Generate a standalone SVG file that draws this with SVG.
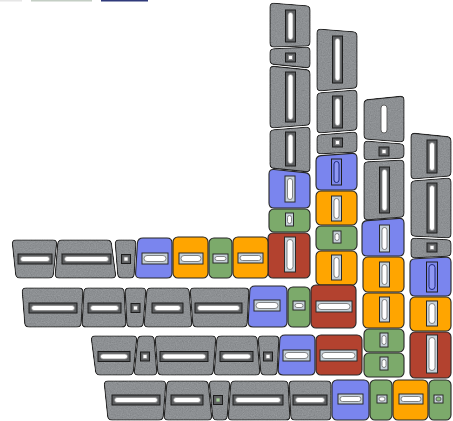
<svg xmlns="http://www.w3.org/2000/svg" width="453" height="421" viewBox="0 0 453 421">
<defs>
<filter id="grain" x="-5%" y="-5%" width="110%" height="110%" color-interpolation-filters="sRGB">
<feTurbulence type="fractalNoise" baseFrequency="0.85" numOctaves="2" seed="4" result="n"/>
<feColorMatrix in="n" type="matrix" values="0.33 0.33 0.33 0 0  0.33 0.33 0.33 0 0  0.33 0.33 0.33 0 0  0 0 0 0 1" result="g"/>
<feComposite in="SourceGraphic" in2="g" operator="arithmetic" k1="0" k2="1" k3="0.22" k4="-0.11" result="m"/>
<feComposite in="m" in2="SourceGraphic" operator="in"/>
</filter>
</defs>
<style>
.k{stroke:#262626;stroke-width:1.1;stroke-linejoin:round}
.gr{fill:#8d9093;filter:url(#grain)}.bl{fill:#7a85ee}.or{fill:#ffa500}.gn{fill:#7caa6b}.rd{fill:#b3422f}
.so{fill:#5d5f61;stroke:#1c1c1c;stroke-width:1}
.si{fill:#ffffff;stroke:#8a8a8a;stroke-width:0.8}
.co{fill:#c6d1d9;stroke:#2a2a2a;stroke-width:1}
.ci{fill:#ffffff;stroke:#6a6a6a;stroke-width:0.8}
.bo{fill:#7e88ea;stroke:#1e1e1e;stroke-width:1}
.bi{fill:#8f98f3;stroke:#1f2a80;stroke-width:1}
</style>
<g id="legend">
<rect x="0" y="-1" width="22" height="2.5" fill="#e6e6e6"/>
<rect x="31" y="-1" width="61" height="2.5" fill="#c4cec4"/>
<rect x="101" y="-1" width="47" height="2.5" fill="#2f3a7a"/>
</g>
<g id="connectors"></g>
<!-- column 1 -->
<g id="c1a"><path class="k gr" d="M274,3.3 L306,5.7 Q310,6 310,10 L310,42 Q310,46 306,46 L274,47 Q270,47 270,43 L270,7 Q270,3 274,3.3 Z"/><rect class="so" x="285.5" y="10" width="10" height="32"/><rect class="si" x="288" y="12.5" width="5" height="27" rx="2.5"/></g>
<g id="c1b"><path class="k gr" d="M274,48.8 L306,47.2 Q310,47 310,51 L310,64 Q310,68 306,67.6 L274,64.4 Q270,64 270,60 L270,53 Q270,49 274,48.8 Z"/><rect class="so" x="285.5" y="53" width="10" height="9"/><rect class="si" x="288.5" y="55.5" width="4" height="4"/></g>
<g id="c1c"><path class="k gr" d="M274,66.4 L306,69.6 Q310,70 310,74 L310,121 Q310,125 306,125.3 L274,127.7 Q270,128 270,124 L270,70 Q270,66 274,66.4 Z"/><rect class="so" x="285.5" y="72" width="10" height="50"/><rect class="si" x="288" y="74.5" width="5" height="45" rx="2.5"/></g>
<g id="c1d"><path class="k gr" d="M274,129.7 L306,127.3 Q310,127 310,131 L310,168 Q310,172 306,171.6 L274,168.4 Q270,168 270,164 L270,134 Q270,130 274,129.7 Z"/><rect class="so" x="285.5" y="132" width="10" height="34"/><rect class="si" x="288" y="134.5" width="5" height="29" rx="2.5"/></g>
<g id="c1e"><path class="k bl" d="M274,169.5 L305,172.6 Q310,173 310,178 L310,203 Q310,208 305,208 L274,208 Q269,208 269,203 L269,174 Q269,169 274,169.5 Z"/><rect class="co" x="285" y="176" width="10" height="26"/><rect class="ci" x="287.5" y="178.5" width="5" height="21" rx="2.5"/></g>
<g id="c1f"><rect class="k gn" x="269" y="209" width="41" height="23" rx="5"/><rect class="co" x="285.5" y="213" width="8" height="13"/><rect class="ci" x="287.5" y="215.5" width="4" height="8" rx="2"/></g>
<g id="c1g"><rect class="k rd" x="268" y="233" width="42" height="45" rx="5"/><rect class="co" x="284.5" y="237" width="11" height="35"/><rect class="ci" x="287" y="239.5" width="6" height="30" rx="3"/></g>
<!-- column 2 -->
<g id="c2a"><path class="k gr" d="M321,29.3 L353,31.7 Q357,32 357,36 L357,84 Q357,88 353,88.3 L321,90.7 Q317,91 317,87 L317,33 Q317,29 321,29.3 Z"/><rect class="so" x="332.5" y="36" width="10" height="47"/><rect class="si" x="335" y="38.5" width="5" height="42" rx="2.5"/></g>
<g id="c2b"><path class="k gr" d="M321,92.7 L353,90.3 Q357,90 357,94 L357,126 Q357,130 353,130.3 L321,132.7 Q317,133 317,129 L317,97 Q317,93 321,92.7 Z"/><rect class="so" x="332.5" y="96" width="10" height="32"/><rect class="si" x="335" y="98.5" width="5" height="27" rx="2.5"/></g>
<g id="c2c"><path class="k gr" d="M321,134.7 L353,132.3 Q357,132 357,136 L357,148 Q357,152 353,152.2 L321,153.8 Q317,154 317,150 L317,139 Q317,135 321,134.7 Z"/><rect class="so" x="332.5" y="138" width="10" height="9"/><rect class="si" x="335.5" y="140.5" width="4" height="4"/></g>
<g id="c2d"><path class="k bl" d="M321,155.6 L352,153.4 Q357,153 357,158 L357,185 Q357,190 352,190 L321,190 Q316,190 316,185 L316,161 Q316,156 321,155.6 Z"/><rect class="bo" x="331.5" y="159" width="10" height="26"/><rect class="bi" x="334" y="161.5" width="5" height="21" rx="2.5"/></g>
<g id="c2e"><rect class="k or" x="316" y="191" width="41" height="34" rx="5"/><rect class="co" x="331.5" y="196" width="10" height="25"/><rect class="ci" x="334" y="198.5" width="5" height="20" rx="2.5"/></g>
<g id="c2f"><rect class="k gn" x="316" y="226" width="41" height="24" rx="5"/><rect class="co" x="333" y="231" width="8" height="12"/><rect class="ci" x="335" y="233.5" width="4" height="7" rx="2"/></g>
<g id="c2g"><rect class="k or" x="316" y="251" width="41" height="34" rx="5"/><rect class="co" x="331.5" y="255" width="10" height="25"/><rect class="ci" x="334" y="257.5" width="5" height="20" rx="2.5"/></g>
<!-- column 3 -->
<g id="c3a"><path class="k gr" d="M368,99.6 L400,96.4 Q404,96 404,100 L404,138 Q404,142 400,141.7 L368,139.3 Q364,139 364,135 L364,104 Q364,100 368,99.6 Z"/><rect x="381" y="105" width="6" height="28" rx="3" fill="#fff" stroke="#555" stroke-width="0.9"/></g>
<g id="c3b"><path class="k gr" d="M368,141.3 L400,143.7 Q404,144 404,148 L404,154 Q404,158 400,158.2 L368,159.8 Q364,160 364,156 L364,145 Q364,141 368,141.3 Z"/><rect class="so" x="379" y="147" width="10" height="9"/><rect class="si" x="382" y="149.5" width="4" height="4"/></g>
<g id="c3c"><path class="k gr" d="M368,161.8 L400,160.2 Q404,160 404,164 L404,213 Q404,217 400,217.3 L368,219.7 Q364,220 364,216 L364,166 Q364,162 368,161.8 Z"/><rect class="so" x="379.5" y="167" width="10" height="46"/><rect class="si" x="382" y="169.5" width="5" height="41" rx="2.5"/></g>
<g id="c3d"><path class="k bl" d="M367,220.6 L399,218.4 Q404,218 404,223 L404,251 Q404,256 399,256 L367,256 Q362,256 362,251 L362,226 Q362,221 367,220.6 Z"/><rect class="co" x="379.5" y="225" width="10" height="27"/><rect class="ci" x="382" y="227.5" width="5" height="22" rx="2.5"/></g>
<g id="c3e"><rect class="k or" x="363" y="257" width="41" height="35" rx="5"/><rect class="co" x="379.5" y="262" width="10" height="25"/><rect class="ci" x="382" y="264.5" width="5" height="20" rx="2.5"/></g>
<g id="c3f"><rect class="k or" x="363" y="293" width="41" height="35" rx="5"/><rect class="co" x="379.5" y="297" width="10" height="25"/><rect class="ci" x="382" y="299.5" width="5" height="20" rx="2.5"/></g>
<g id="c3g"><rect class="k gn" x="364" y="329" width="40" height="23" rx="5"/><rect class="co" x="380" y="333" width="8" height="14"/><rect class="ci" x="382" y="335.5" width="4" height="9" rx="2"/></g>
<g id="c3h"><rect class="k gn" x="364" y="353" width="40" height="24" rx="5"/><rect class="co" x="380" y="357" width="8" height="13"/><rect class="ci" x="382" y="359.5" width="4" height="8" rx="2"/></g>
<!-- column 4 -->
<g id="c4a"><path class="k gr" d="M415,133.4 L447,136.6 Q451,137 451,141 L451,172 Q451,176 447,176.3 L415,178.7 Q411,179 411,175 L411,137 Q411,133 415,133.4 Z"/><rect class="so" x="427" y="140" width="10" height="33"/><rect class="si" x="429.5" y="142.5" width="5" height="28" rx="2.5"/></g>
<g id="c4b"><path class="k gr" d="M415,180.7 L447,178.3 Q451,178 451,182 L451,234 Q451,238 447,237.8 L415,236.2 Q411,236 411,232 L411,185 Q411,181 415,180.7 Z"/><rect class="so" x="427" y="183" width="10" height="50"/><rect class="si" x="429.5" y="185.5" width="5" height="45" rx="2.5"/></g>
<g id="c4c"><path class="k gr" d="M415,238.2 L447,239.8 Q451,240 451,244 L451,252 Q451,256 447,256.2 L415,257.8 Q411,258 411,254 L411,242 Q411,238 415,238.2 Z"/><rect class="so" x="427" y="243" width="10" height="9"/><rect class="si" x="430" y="245.5" width="4" height="4"/></g>
<g id="c4d"><path class="k bl" d="M415,258.8 L446,257.2 Q451,257 451,262 L451,291 Q451,296 446,296 L415,296 Q410,296 410,291 L410,264 Q410,259 415,258.8 Z"/><rect class="bo" x="426.5" y="262" width="11" height="30"/><rect class="bi" x="429" y="264.5" width="6" height="25" rx="3"/></g>
<g id="c4e"><rect class="k or" x="410" y="297" width="41" height="34" rx="5"/><rect class="co" x="426.5" y="301" width="11" height="25"/><rect class="ci" x="429" y="303.5" width="6" height="20" rx="3"/></g>
<g id="c4f"><rect class="k rd" x="410" y="332" width="41" height="46" rx="5"/><rect class="co" x="426.5" y="335" width="11" height="38"/><rect class="ci" x="429" y="337.5" width="6" height="33" rx="3"/></g>
<!-- row 1 -->
<g id="r1a"><path class="k gr" d="M16,240 L53,240 Q57,240 56.6,244 L53.4,274 Q53,278 49,278 L20,278 Q16,278 15.6,274 L12.4,244 Q12,240 16,240 Z"/><rect class="so" x="18" y="254" width="34" height="10"/><rect class="si" x="20.5" y="256.5" width="29" height="5" rx="2.5"/></g>
<g id="r1b"><path class="k gr" d="M62,240 L107,240 Q111,240 111.5,244 L115.5,274 Q116,278 112,278 L59,278 Q55,278 55.3,274 L57.7,244 Q58,240 62,240 Z"/><rect class="so" x="62" y="254" width="49" height="10"/><rect class="si" x="64.5" y="256.5" width="44" height="5" rx="2.5"/></g>
<g id="r1c"><path class="k gr" d="M119,240 L132,240 Q136,240 135.8,244 L134.2,274 Q134,278 130,278 L122,278 Q118,278 117.7,274 L115.3,244 Q115,240 119,240 Z"/><rect class="so" x="121.5" y="254.5" width="9" height="9"/><rect class="si" x="124" y="257" width="4" height="4"/></g>
<g id="r1d"><path class="k bl" d="M143,238 L167,238 Q172,238 172,243 L172,273 Q172,278 167,278 L140,278 Q135,278 135.6,273 L137.4,243 Q138,238 143,238 Z"/><rect class="co" x="142" y="253" width="26" height="11"/><rect class="ci" x="144" y="255.5" width="22" height="6" rx="3"/></g>
<g id="r1e"><rect class="k or" x="173" y="237" width="35" height="41" rx="5"/><rect class="co" x="179" y="253" width="24" height="11"/><rect class="ci" x="181" y="255.5" width="20" height="6" rx="3"/></g>
<g id="r1f"><rect class="k gn" x="209" y="238" width="23" height="40" rx="5"/><rect class="co" x="213" y="254" width="15" height="9"/><rect class="ci" x="215" y="256.5" width="11" height="4" rx="2"/></g>
<g id="r1g"><rect class="k or" x="233" y="237" width="35" height="41" rx="5"/><rect class="co" x="238" y="253" width="25" height="10"/><rect class="ci" x="240" y="255.5" width="21" height="5" rx="2.5"/></g>
<!-- row 2 -->
<g id="r2a"><path class="k gr" d="M26,288 L79,288 Q83,288 82.8,292 L81.2,323 Q81,327 77,327 L29,327 Q25,327 24.7,323 L22.3,292 Q22,288 26,288 Z"/><rect class="so" x="29" y="303" width="48" height="10"/><rect class="si" x="31.5" y="305.5" width="43" height="5" rx="2.5"/></g>
<g id="r2b"><path class="k gr" d="M88,288 L120,288 Q124,288 124.2,292 L125.8,323 Q126,327 122,327 L86,327 Q82,327 82.2,323 L83.8,292 Q84,288 88,288 Z"/><rect class="so" x="88" y="303" width="33" height="10"/><rect class="si" x="90.5" y="305.5" width="28" height="5" rx="2.5"/></g>
<g id="r2c"><path class="k gr" d="M129,288 L142,288 Q146,288 145.7,292 L143.3,323 Q143,327 139,327 L131,327 Q127,327 126.8,323 L125.2,292 Q125,288 129,288 Z"/><rect class="so" x="131" y="303.5" width="9" height="9"/><rect class="si" x="133.5" y="306" width="4" height="4"/></g>
<g id="r2d"><path class="k gr" d="M151,288 L185,288 Q189,288 189.3,292 L191.7,323 Q192,327 188,327 L148,327 Q144,327 144.3,323 L146.7,292 Q147,288 151,288 Z"/><rect class="so" x="152" y="303" width="31" height="10"/><rect class="si" x="154.5" y="305.5" width="26" height="5" rx="2.5"/></g>
<g id="r2e"><path class="k gr" d="M194,288 L245,288 Q249,288 248.8,292 L247.2,323 Q247,327 243,327 L197,327 Q193,327 192.7,323 L190.3,292 Q190,288 194,288 Z"/><rect class="so" x="195" y="303" width="47" height="10"/><rect class="si" x="197.5" y="305.5" width="42" height="5" rx="2.5"/></g>
<g id="r2f"><path class="k bl" d="M255,286 L282,286 Q287,286 287,291 L287,322 Q287,327 282,327 L253,327 Q248,327 248.2,322 L249.8,291 Q250,286 255,286 Z"/><rect class="co" x="254" y="300" width="26" height="11"/><rect class="ci" x="256" y="302.5" width="22" height="6" rx="3"/></g>
<g id="r2g"><rect class="k gn" x="288" y="287" width="22" height="40" rx="5"/><rect class="co" x="293" y="301" width="12" height="9"/><rect class="ci" x="295" y="303.5" width="8" height="4" rx="2"/></g>
<g id="r2h"><rect class="k rd" x="311" y="285" width="45" height="43" rx="5"/><rect class="co" x="316" y="301" width="36" height="11"/><rect class="ci" x="318" y="303.5" width="32" height="6" rx="3"/></g>
<!-- row 3 -->
<g id="r3a"><path class="k gr" d="M95,336 L133,336 Q137,336 136.6,340 L133.4,371 Q133,375 129,375 L100,375 Q96,375 95.5,371 L91.5,340 Q91,336 95,336 Z"/><rect class="so" x="98" y="351.5" width="32" height="10"/><rect class="si" x="100.5" y="354" width="27" height="5" rx="2.5"/></g>
<g id="r3b"><path class="k gr" d="M142,336 L150,336 Q154,336 154.3,340 L156.7,371 Q157,375 153,375 L138,375 Q134,375 134.4,371 L137.6,340 Q138,336 142,336 Z"/><rect class="so" x="140.5" y="352" width="9" height="9"/><rect class="si" x="143" y="354.5" width="4" height="4"/></g>
<g id="r3c"><path class="k gr" d="M159,336 L212,336 Q216,336 215.7,340 L213.3,371 Q213,375 209,375 L162,375 Q158,375 157.7,371 L155.3,340 Q155,336 159,336 Z"/><rect class="so" x="160" y="351.5" width="48" height="10"/><rect class="si" x="162.5" y="354" width="43" height="5" rx="2.5"/></g>
<g id="r3d"><path class="k gr" d="M221,336 L253,336 Q257,336 257.3,340 L259.7,371 Q260,375 256,375 L218,375 Q214,375 214.3,371 L216.7,340 Q217,336 221,336 Z"/><rect class="so" x="220" y="351.5" width="33" height="10"/><rect class="si" x="222.5" y="354" width="28" height="5" rx="2.5"/></g>
<g id="r3e"><path class="k gr" d="M262,336 L275,336 Q279,336 278.8,340 L277.2,371 Q277,375 273,375 L265,375 Q261,375 260.7,371 L258.3,340 Q258,336 262,336 Z"/><rect class="so" x="263.5" y="352" width="9" height="9"/><rect class="si" x="266" y="354.5" width="4" height="4"/></g>
<g id="r3f"><path class="k bl" d="M285,335 L310,335 Q315,335 315,340 L315,370 Q315,375 310,375 L283,375 Q278,375 278.2,370 L279.8,340 Q280,335 285,335 Z"/><rect class="co" x="283" y="350" width="27" height="11"/><rect class="ci" x="285" y="352.5" width="23" height="6" rx="3"/></g>
<g id="r3g"><rect class="k rd" x="316" y="335" width="46" height="40" rx="5"/><rect class="co" x="320" y="350" width="37" height="11"/><rect class="ci" x="322" y="352.5" width="33" height="6" rx="3"/></g>
<!-- row 4 -->
<g id="r4a"><path class="k gr" d="M108,381 L162,381 Q166,381 165.7,385 L163.3,416 Q163,420 159,420 L112,420 Q108,420 107.6,416 L104.4,385 Q104,381 108,381 Z"/><rect class="so" x="112" y="395" width="48" height="10"/><rect class="si" x="114.5" y="397.5" width="43" height="5" rx="2.5"/></g>
<g id="r4b"><path class="k gr" d="M171,381 L204,381 Q208,381 208.4,385 L211.6,416 Q212,420 208,420 L168,420 Q164,420 164.3,416 L166.7,385 Q167,381 171,381 Z"/><rect class="so" x="171" y="395" width="32" height="10"/><rect class="si" x="173.5" y="397.5" width="27" height="5" rx="2.5"/></g>
<g id="r4c"><path class="k gr" d="M213,381 L226,381 Q230,381 229.7,385 L227.3,416 Q227,420 223,420 L217,420 Q213,420 212.6,416 L209.4,385 Q209,381 213,381 Z"/><rect class="so" x="213.5" y="395.5" width="9" height="9"/><rect x="216" y="398" width="4" height="4" fill="#a6d39a" stroke="#6a6a6a" stroke-width="0.8"/></g>
<g id="r4d"><path class="k gr" d="M235,381 L284,381 Q288,381 288.2,385 L289.8,416 Q290,420 286,420 L232,420 Q228,420 228.3,416 L230.7,385 Q231,381 235,381 Z"/><rect class="so" x="233" y="395" width="50" height="10"/><rect class="si" x="235.5" y="397.5" width="45" height="5" rx="2.5"/></g>
<g id="r4e"><path class="k gr" d="M293,381 L327,381 Q331,381 331,385 L331,416 Q331,420 327,420 L295,420 Q291,420 290.8,416 L289.2,385 Q289,381 293,381 Z"/><rect class="so" x="293" y="395" width="34" height="10"/><rect class="si" x="295.5" y="397.5" width="29" height="5" rx="2.5"/></g>
<g id="r4f"><rect class="k bl" x="332" y="380" width="37" height="40" rx="5"/><rect class="co" x="338" y="394" width="25" height="10"/><rect class="ci" x="340" y="396.5" width="21" height="5" rx="2.5"/></g>
<g id="r4g"><rect class="k gn" x="370" y="380" width="22" height="40" rx="5"/><rect class="co" x="377" y="395" width="10" height="8"/><rect class="ci" x="379" y="397" width="6" height="4" rx="2"/></g>
<g id="r4h"><rect class="k or" x="393" y="380" width="35" height="40" rx="5"/><rect class="co" x="399" y="394" width="24" height="10"/><rect class="ci" x="401" y="396.5" width="20" height="5" rx="2.5"/></g>
<g id="r4i"><rect class="k gn" x="429" y="380" width="22" height="40" rx="5"/><rect class="co" x="434" y="395" width="9" height="8"/><rect x="436" y="397" width="5" height="4" rx="2" fill="#8fbf7f" stroke="#4a4a4a" stroke-width="0.8"/></g>
</svg>
